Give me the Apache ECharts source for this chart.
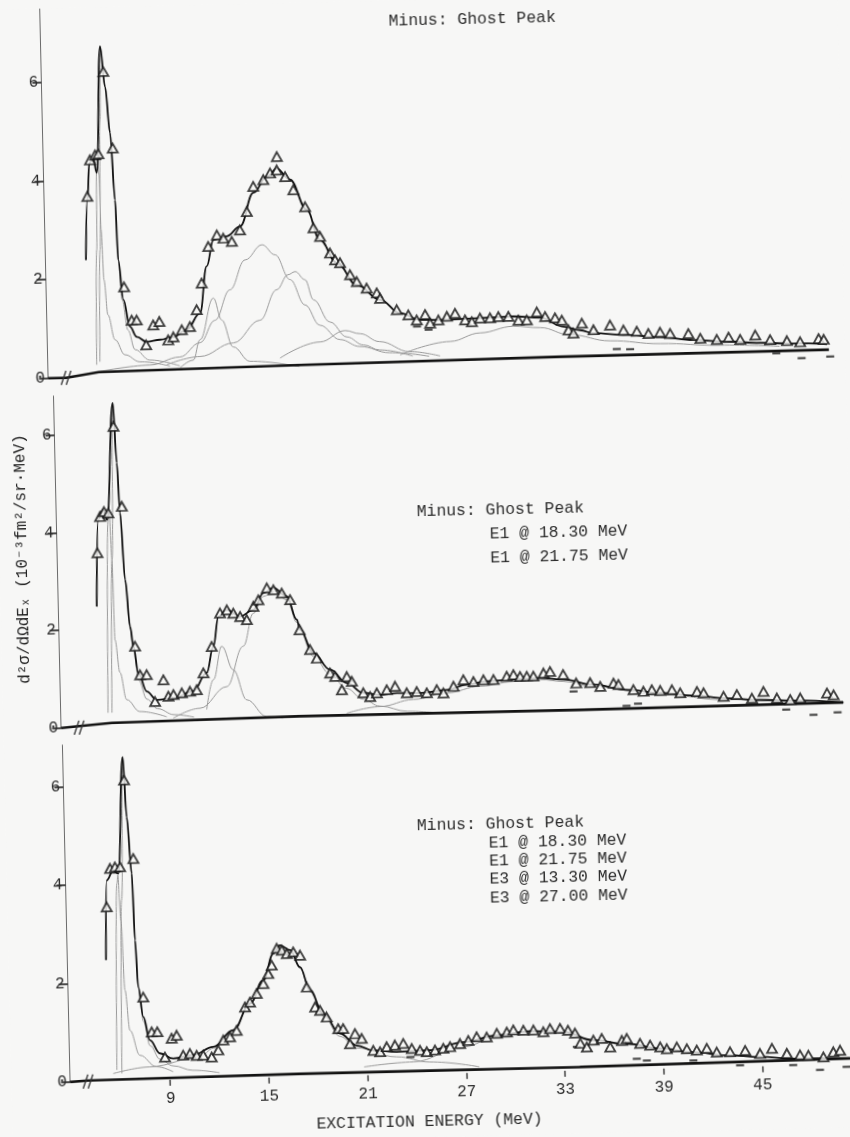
<!DOCTYPE html>
<html>
<head>
<meta charset="utf-8">
<script src="https://cdn.jsdelivr.net/npm/echarts@6/dist/echarts.min.js"></script>
<style>
  html, body { margin: 0; padding: 0; background: #f7f7f6; overflow: hidden; }
  /* the plotted sheet sits slightly askew on the page */
  #chart { width: 850px; height: 1137px; transform: rotate(-1.3deg); transform-origin: 425px 568.5px; }
</style>
</head>
<body>
<div id="chart"></div>
<script>
// ---------- axes ----------
const xTicks = [9, 15, 21, 27, 33, 39, 45];
const yTicks = [0, 2, 4, 6];
const xTitle = 'EXCITATION ENERGY (MeV)';
const yTitle = 'd²σ/dΩdEₓ (10⁻³fm²/sr·MeV)';

// ---------- panel notes ----------
const note1 = ['Minus: Ghost Peak'];
const note2 = ['Minus: Ghost Peak', 'E1 @ 18.30 MeV', 'E1 @ 21.75 MeV'];
const note3 = ['Minus: Ghost Peak', 'E1 @ 18.30 MeV', 'E1 @ 21.75 MeV', 'E3 @ 13.30 MeV', 'E3 @ 27.00 MeV'];

// ---------- panel 1 (ghost peak removed) ----------
const p1Points = [[5.54,3.67],[5.75,4.41],[6.07,4.51],[6.27,4.53],[6.68,6.20],[7.15,4.64],[7.65,1.82],[8.07,1.14],[8.37,1.14],[8.91,0.63],[9.37,1.03],[9.75,1.10],[10.26,0.72],[10.58,0.78],[11.1,0.92],[11.6,0.98],[12.03,1.32],[12.37,1.86],[12.82,2.60],[13.36,2.83],[13.75,2.76],[14.26,2.69],[14.77,2.92],[15.21,3.29],[15.64,3.80],[16.26,3.93],[16.68,4.06],[17.09,4.12],[17.11,4.39],[17.59,3.98],[18.07,3.71],[18.76,3.36],[19.24,2.93],[19.63,2.75],[20.21,2.41],[20.51,2.27],[20.81,2.21],[21.4,1.96],[21.8,1.82],[22.39,1.68],[23.0,1.58],[23.19,1.47],[24.19,1.23],[24.89,1.12],[25.39,1.01],[25.91,1.12],[26.2,0.94],[26.71,1.0],[27.23,1.07],[27.73,1.13],[28.33,0.99],[28.74,0.95],[29.24,1.02],[29.85,1.02],[30.36,1.04],[30.97,1.04],[31.57,0.96],[32.08,0.96],[32.7,1.12],[33.2,1.02],[33.8,0.99],[34.21,0.94],[34.6,0.74],[34.89,0.67],[35.42,0.87],[36.12,0.73],[37.13,0.82],[37.94,0.71],[38.75,0.68],[39.45,0.63],[40.16,0.65],[40.77,0.62],[41.88,0.61],[42.6,0.51],[43.6,0.48],[44.32,0.52],[45.02,0.47],[45.94,0.55],[46.84,0.45],[47.86,0.42],[48.66,0.39],[49.79,0.45],[50.1,0.43]];
const p1Low = [[25.4,0.88],[26.1,0.81],[37.51,0.33],[38.32,0.32],[47.2,0.17],[48.73,0.06],[50.47,0.08]];
const p1Fit = [[5.37,2.38],[5.54,3.60],[5.71,4.35],[5.95,4.45],[6.14,4.15],[6.52,6.71],[6.77,5.89],[7.01,4.95],[7.22,3.59],[7.33,2.37],[7.59,1.56],[7.95,1.01],[8.35,0.80],[8.95,0.69],[9.76,0.73],[10.58,0.78],[11.4,0.92],[12.23,1.25],[12.7,2.20],[13.14,2.73],[13.96,2.80],[14.78,2.99],[15.64,3.67],[16.48,3.99],[17.09,4.15],[17.88,3.92],[18.86,3.30],[19.62,2.68],[20.61,2.21],[21.8,1.75],[23.19,1.44],[24.39,1.16],[25.59,1.01],[27.22,1.0],[29.24,1.02],[31.28,1.04],[32.89,1.0],[34.3,0.81],[35.31,0.73],[36.11,0.66],[38.14,0.61],[40.16,0.55],[42.18,0.48],[44.21,0.43],[46.23,0.39],[48.26,0.36],[50.29,0.33]];
const p1Base = [[2.9,0],[4.0,0.0],[6.0,0.1],[18.2,0.15],[34,0.2],[50.4,0.22]];
const p1PeakA = [[5.88,0.25],[6.04,2.58],[6.14,4.21],[6.21,4.47],[6.28,4.1],[6.33,2.99],[6.44,1.97],[6.63,1.26],[7.03,0.75],[7.61,0.44],[8.52,0.29],[10.33,0.19]];
const p1PeakB = [[6.08,0.31],[6.24,2.58],[6.42,5.22],[6.52,6.71],[6.77,5.89],[7.01,4.95],[7.22,3.59],[7.33,2.37],[7.51,1.56],[7.83,0.94],[8.23,0.54],[9.12,0.32],[10.93,0.19]];
const p1Comp13 = [[10.95,0.15],[11.76,0.30],[12.19,0.71],[13.06,1.55],[13.54,1.10],[14.2,0.55],[15.2,0.25],[18.2,0.12]];
const p1Comp16 = [[6.06,0.11],[9.12,0.22],[10.95,0.37],[12.19,0.65],[13.13,1.10],[14.08,1.71],[15.04,2.31],[16.09,2.61],[16.87,2.40],[17.75,1.89],[18.62,1.37],[19.5,0.95],[20.7,0.65],[21.9,0.50],[23.7,0.36],[26.1,0.27]];
const p1Comp18 = [[10.14,0.22],[12.17,0.37],[14.21,0.63],[15.87,1.08],[16.92,1.69],[17.63,1.99],[18.07,2.05],[18.66,1.88],[19.14,1.47],[20.12,1.01],[21.12,0.70],[22.12,0.53],[23.1,0.42],[25.1,0.28]];
const p1Comp21 = [[17.03,0.30],[19.48,0.61],[21.02,0.83],[21.93,0.76],[23.1,0.59],[24.94,0.37],[26.77,0.27]];
const p1Comp31 = [[24.33,0.31],[27.39,0.56],[29.22,0.72],[31.24,0.84],[32.88,0.80],[34.69,0.64],[37.11,0.50],[40.15,0.42],[43.8,0.36],[47.4,0.31]];

// ---------- panel 2 (ghost peak and E1 strength removed) ----------
const p2Points = [[5.35,3.57],[5.56,4.31],[5.81,4.41],[6.07,4.38],[6.5,6.15],[6.9,4.51],[7.51,1.64],[7.78,1.05],[8.18,1.05],[8.65,0.50],[9.19,0.94],[9.47,0.60],[9.78,0.63],[10.29,0.66],[10.79,0.69],[11.2,0.72],[11.63,1.06],[12.17,1.60],[12.72,2.28],[13.14,2.34],[13.53,2.27],[13.94,2.20],[14.34,2.13],[14.76,2.40],[15.07,2.53],[15.6,2.77],[16.0,2.73],[16.5,2.66],[17.0,2.52],[17.53,1.90],[18.14,1.49],[18.54,1.31],[19.33,1.0],[19.63,0.93],[20.02,0.65],[20.34,0.92],[20.64,0.82],[21.32,0.58],[21.73,0.50],[22.14,0.57],[22.75,0.63],[23.26,0.70],[23.96,0.56],[24.57,0.58],[25.18,0.55],[25.79,0.61],[26.19,0.54],[26.81,0.67],[27.42,0.80],[28.03,0.76],[28.64,0.79],[29.25,0.79],[30.06,0.85],[30.47,0.88],[30.87,0.84],[31.28,0.84],[31.68,0.84],[32.3,0.90],[32.7,0.93],[33.49,0.86],[34.27,0.68],[35.12,0.68],[35.73,0.60],[36.54,0.66],[36.84,0.63],[37.74,0.52],[38.35,0.48],[38.86,0.51],[39.37,0.49],[40.08,0.50],[40.58,0.43],[41.6,0.45],[42.0,0.42],[43.21,0.34],[44.02,0.37],[44.93,0.29],[45.64,0.42],[46.45,0.28],[47.26,0.24],[47.87,0.27],[49.5,0.36],[49.9,0.32]];
const p2Low = [[34.1,0.51],[37.3,0.19],[38.0,0.23],[47.0,0.04],[48.65,-0.08],[50.12,-0.04]];
const p2Fit = [[5.24,2.47],[5.45,4.25],[5.75,4.45],[5.98,4.24],[6.49,6.63],[6.65,5.41],[6.78,4.38],[7.0,3.01],[7.24,2.05],[7.41,1.64],[7.68,1.09],[8.16,0.71],[8.76,0.53],[9.77,0.56],[10.99,0.69],[11.83,1.06],[12.27,1.60],[12.62,2.21],[13.14,2.34],[13.94,2.20],[14.75,2.33],[15.38,2.67],[16.0,2.77],[16.8,2.59],[17.38,2.11],[17.56,1.90],[18.34,1.42],[19.33,1.07],[20.33,0.79],[21.32,0.58],[22.34,0.53],[23.36,0.56],[24.77,0.55],[26.4,0.60],[27.62,0.70],[28.84,0.76],[30.46,0.78],[32.09,0.80],[33.5,0.76],[35.32,0.64],[37.34,0.52],[39.36,0.44],[41.39,0.37],[43.41,0.30],[45.43,0.25],[47.45,0.22],[50.49,0.16]];
const p2Base = [[2.9,0],[4.0,0.03],[6.0,0.08],[17.44,0.13],[34.48,0.13],[50.47,0.16]];
const p2PeakA = [[5.78,0.29],[6.05,4.24],[6.12,4.41],[6.23,3.42],[6.3,1.78],[6.56,1.11],[6.93,0.55],[7.72,0.30],[9.34,0.18]];
const p2PeakB = [[6.02,0.29],[6.23,3.42],[6.49,6.63],[6.65,5.41],[6.78,4.38],[7.0,3.0],[7.24,2.0],[7.41,1.55],[7.68,0.95],[8.16,0.55],[8.8,0.35],[9.8,0.22],[11,0.16]];
const p2Comp13 = [[11.78,0.31],[12.23,0.92],[12.78,1.60],[13.45,1.11],[14.23,0.49],[15.42,0.14],[16.4,0.1]];
const p2Comp16 = [[9.74,0.15],[11.38,0.34],[13.03,0.77],[14.09,1.59],[14.75,2.26],[15.38,2.6],[16.0,2.7],[16.8,2.52],[17.38,2.05],[18.34,1.35],[19.33,0.98],[20.3,0.68],[21.3,0.45],[22.3,0.3],[24,0.18],[26,0.13]];
const p2Comp31 = [[20.29,0.17],[22.32,0.29],[24.36,0.42],[26.4,0.54],[28.43,0.66],[30.46,0.74],[32.08,0.77],[33.5,0.72],[35.32,0.60],[39.36,0.40],[43.41,0.27],[47.45,0.18]];

// ---------- panel 3 (ghost peak, E1 and E3 strength removed) ----------
const p3Points = [[5.37,3.54],[5.63,4.32],[5.93,4.35],[6.24,4.35],[6.6,6.11],[7.06,4.51],[7.47,1.69],[7.94,0.98],[8.28,0.98],[8.71,0.46],[9.14,0.84],[9.45,0.90],[9.82,0.49],[10.23,0.52],[10.64,0.48],[11.04,0.48],[11.55,0.44],[11.96,0.58],[12.28,0.78],[12.69,0.84],[13.1,0.97],[13.64,1.44],[13.95,1.54],[14.37,1.71],[14.79,1.91],[15.1,2.11],[15.32,2.28],[15.65,2.62],[15.95,2.58],[16.25,2.51],[16.65,2.54],[17.06,2.47],[17.42,1.82],[17.9,1.41],[18.2,1.34],[18.59,1.20],[19.28,0.96],[19.58,0.96],[19.97,0.65],[20.29,0.85],[20.69,0.75],[21.38,0.50],[21.79,0.47],[22.2,0.57],[22.7,0.60],[23.21,0.63],[23.72,0.52],[24.22,0.48],[24.63,0.45],[25.13,0.48],[25.64,0.51],[26.05,0.54],[26.66,0.60],[27.17,0.66],[27.68,0.73],[28.29,0.72],[28.91,0.79],[29.52,0.81],[29.92,0.85],[30.53,0.84],[31.14,0.84],[31.74,0.80],[32.15,0.86],[32.76,0.86],[33.24,0.82],[33.66,0.76],[33.97,0.55],[34.36,0.47],[34.77,0.61],[35.28,0.64],[35.78,0.46],[36.5,0.59],[36.8,0.63],[37.6,0.52],[38.21,0.48],[38.82,0.44],[39.22,0.40],[39.83,0.43],[40.44,0.39],[41.04,0.36],[41.65,0.39],[42.25,0.31],[43.06,0.31],[43.98,0.33],[44.88,0.26],[45.61,0.36],[46.51,0.25],[47.31,0.21],[47.82,0.20],[48.73,0.16],[49.34,0.26],[49.75,0.29]];
const p3Low = [[23.63,0.35],[33.75,0.48],[37.38,0.21],[37.99,0.17],[40.82,0.15],[43.65,0.03],[46.88,0.01],[48.5,-0.1],[50.12,-0.05]];
const p3Fit = [[5.26,2.46],[5.41,4.08],[5.82,4.28],[6.12,4.21],[6.55,6.58],[6.71,5.36],[6.94,4.21],[7.05,2.85],[7.18,1.90],[7.45,1.29],[7.82,0.81],[8.41,0.54],[9.21,0.43],[10.43,0.49],[11.66,0.65],[12.9,0.98],[13.95,1.51],[14.79,1.98],[15.44,2.52],[15.85,2.68],[16.46,2.58],[17.04,2.23],[17.62,1.75],[18.39,1.27],[19.38,0.86],[20.38,0.61],[21.38,0.50],[22.8,0.46],[24.83,0.48],[26.86,0.63],[28.9,0.75],[30.93,0.82],[32.96,0.79],[34.77,0.61],[36.78,0.52],[38.81,0.41],[40.83,0.32],[42.86,0.24],[44.88,0.19],[46.9,0.14],[50.35,0.12]];
const p3Base = [[2.9,0],[4.02,0.02],[16.89,0.06],[33.92,0.07],[50.35,0.12]];
const p3PeakA = [[5.77,0.22],[6.03,4.01],[6.09,4.18],[6.22,3.26],[6.37,1.84],[6.62,1.02],[7.19,0.51],[8.19,0.27],[9.19,0.16]];
const p3PeakB = [[6.07,0.15],[6.29,3.67],[6.55,6.58],[6.71,5.36],[6.94,4.21],[7.05,2.85],[7.18,1.9],[7.45,1.2],[7.82,0.7],[8.41,0.42],[9.2,0.28],[10.4,0.18],[12,0.12]];
const p3Comp16 = [[5.54,0.15],[7.79,0.27],[10.84,0.45],[11.66,0.62],[12.9,0.96],[13.95,1.5],[14.79,1.97],[15.44,2.5],[15.85,2.66],[16.46,2.56],[17.04,2.2],[17.62,1.72],[18.39,1.22],[19.38,0.8],[20.36,0.56],[22.79,0.36],[24.81,0.24],[27.8,0.12]];
const p3Comp31 = [[20.8,0.17],[23.8,0.25],[26.86,0.53],[28.9,0.72],[30.93,0.80],[32.96,0.77],[34.77,0.59],[36.78,0.5],[38.81,0.39]];

// ---------- drawing ----------
const BG = '#f7f7f6';
const INK = '#121212';
const MONO = '"Liberation Mono", "DejaVu Sans Mono", monospace';
const X_MIN = 2.9, X_MAX = 50.5, BREAK_AT = 4.0;

const panels = [
  { left: 52.4, top: 0.3,   height: 369.4, yMax: 7.5,
    points: p1Points, low: p1Low, fit: p1Fit, base: p1Base,
    comps: [p1PeakA, p1PeakB, p1Comp13, p1Comp16, p1Comp18, p1Comp21, p1Comp31],
    note: note1, noteX: 401, noteY: 21, noteIndent: 0, noteGap: 0 },
  { left: 57.5, top: 387.7, height: 332,   yMax: 6.8,
    points: p2Points, low: p2Low, fit: p2Fit, base: p2Base,
    comps: [p2PeakA, p2PeakB, p2Comp13, p2Comp16, p2Comp31],
    note: note2, noteX: 418, noteY: 511.5, noteIndent: 72.5, noteGap: 24 },
  { left: 58.4, top: 736.8, height: 337,   yMax: 6.85,
    points: p3Points, low: p3Low, fit: p3Fit, base: p3Base,
    comps: [p3PeakA, p3PeakB, p3Comp16, p3Comp31],
    note: note3, noteX: 411, noteY: 826, noteIndent: 71.5, noteGap: 18.3 }
];
const plotWidth = (X_MAX - X_MIN) * 16.45;
const last = panels.length - 1;

const grids = [], xAxes = [], yAxes = [], series = [], graphics = [];

panels.forEach((p, i) => {
  grids.push({ left: p.left, top: p.top, width: plotWidth, height: p.height, outerBoundsMode: 'none', containLabel: false });
  xAxes.push({
    type: 'value', gridIndex: i, min: X_MIN, max: X_MAX,
    axisLine: { show: false },
    splitLine: { show: false },
    axisTick: { show: i === last, customValues: xTicks, length: 6, lineStyle: { color: INK, width: 1.2 } },
    axisLabel: { show: i === last, customValues: xTicks, margin: 11,
      fontFamily: MONO, fontSize: 16, color: '#2a2a2a' }
  });
  yAxes.push({
    type: 'value', gridIndex: i, min: 0, max: p.yMax,
    axisLine: { show: true, lineStyle: { color: '#6a6a6a', width: 1 } },
    splitLine: { show: false },
    axisTick: { show: true, customValues: yTicks, length: 9, lineStyle: { color: INK, width: 1.5 } },
    axisLabel: { show: true, customValues: yTicks, margin: 3,
      fontFamily: MONO, fontSize: 16, color: '#2a2a2a' }
  });

  const ax = { xAxisIndex: i, yAxisIndex: i };
  p.comps.forEach(c => series.push(Object.assign({
    type: 'line', data: c, smooth: 0.4, smoothMonotone: 'x', symbol: 'none', silent: true,
    lineStyle: { color: '#9a9a9a', width: 1 }, z: 2
  }, ax)));
  series.push(Object.assign({
    type: 'line', data: p.base, symbol: 'none', silent: true,
    lineStyle: { color: INK, width: 2.6 }, z: 3
  }, ax));
  series.push(Object.assign({
    type: 'line', data: p.fit, smooth: 0.4, smoothMonotone: 'x', symbol: 'none', silent: true,
    lineStyle: { color: INK, width: 1.8 }, z: 4
  }, ax));
  series.push(Object.assign({
    type: 'scatter', data: p.low, symbol: 'rect', symbolSize: [8, 2.2], clip: false,
    itemStyle: { color: '#1d1d1d' }, z: 5
  }, ax));
  series.push(Object.assign({
    type: 'scatter', data: p.points, symbol: 'triangle', symbolSize: [10, 9], clip: false,
    itemStyle: { color: BG, borderColor: INK, borderWidth: 1.8 }, z: 6
  }, ax));

  // typed notes inside the panel
  p.note.forEach((t, k) => graphics.push({
    type: 'text', x: p.noteX + (k === 0 ? 0 : p.noteIndent), y: p.noteY + k * p.noteGap, z: 10,
    style: { text: t, font: '16.4px ' + MONO, fill: '#2b2b2b', textAlign: 'left', textVerticalAlign: 'middle' }
  }));
});

// axis titles
graphics.push({
  type: 'text', x: 417, y: 1122, z: 10,
  style: { text: xTitle, font: '16.4px ' + MONO, fill: '#2a2a2a', textAlign: 'center', textVerticalAlign: 'middle' }
});
graphics.push({
  type: 'text', x: 22.4, y: 550, rotation: Math.PI / 2, z: 10,
  style: { text: yTitle, font: '16px ' + MONO, fill: '#1f1f1f', textAlign: 'center', textVerticalAlign: 'middle' }
});

const chart = echarts.init(document.getElementById('chart'), null, { renderer: 'canvas' });
chart.setOption({
  backgroundColor: BG,
  animation: false,
  grid: grids, xAxis: xAxes, yAxis: yAxes, series: series, graphic: graphics
});

// axis-break marks "//" on each baseline
const breaks = [];
panels.forEach((p, i) => {
  const c = chart.convertToPixel({ xAxisIndex: i, yAxisIndex: i }, [BREAK_AT, 0]);
  [-2.5, 2.5].forEach(d => breaks.push({
    type: 'line', z: 11,
    shape: { x1: c[0] + d - 2.5, y1: c[1] + 7, x2: c[0] + d + 2.5, y2: c[1] - 7 },
    style: { stroke: '#333', lineWidth: 1.3 }
  }));
});
chart.setOption({ graphic: graphics.concat(breaks) });
</script>
</body>
</html>
